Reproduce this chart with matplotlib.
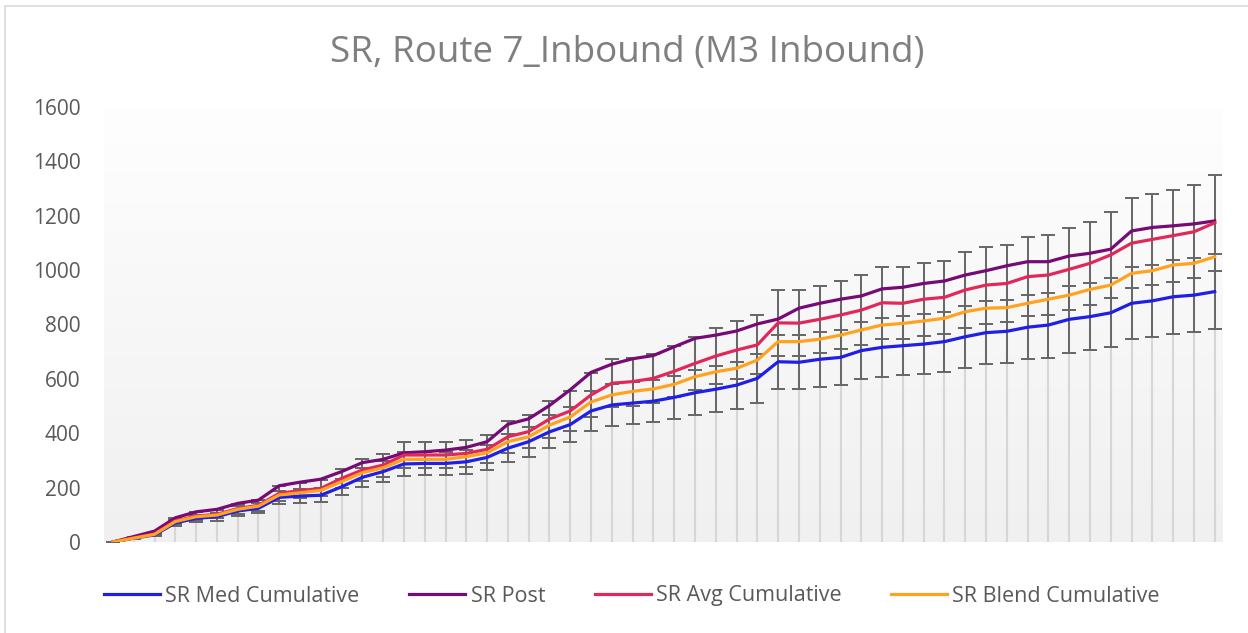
import matplotlib
matplotlib.use("Agg")
import matplotlib.pyplot as plt
import numpy as np
from matplotlib.patches import Rectangle

plt.rcParams['font.family'] = ['Open Sans', 'DejaVu Sans']

title = "SR, Route 7_Inbound (M3 Inbound)"
series_names = ["SR Med Cumulative", "SR Post", "SR Avg Cumulative", "SR Blend Cumulative"]

med = [0, 14, 26, 70, 87, 93, 114, 124, 164, 169, 172, 203, 238, 259, 287, 289, 289, 295,
       311, 345, 369, 405, 432, 482, 504, 511, 518, 532, 549, 562, 577, 602, 663, 661, 672,
       679, 704, 716, 722, 728, 737, 755, 770, 775, 790, 798, 819, 829, 843, 878, 887, 902,
       908, 921]
post = [0, 20, 40, 89, 111, 120, 142, 154, 207, 220, 231, 259, 292, 304, 328, 332, 338, 348,
        369, 433, 453, 502, 560, 624, 654, 674, 686, 718, 749, 761, 776, 802, 820, 860, 878,
        893, 905, 931, 937, 951, 960, 982, 998, 1016, 1031, 1031, 1052, 1062, 1077, 1144, 1157,
        1163, 1170, 1181]
avg = [0, 15, 30, 78, 95, 102, 123, 135, 179, 189, 197, 234, 265, 283, 320, 320, 320, 326,
       341, 387, 406, 452, 482, 541, 584, 590, 602, 628, 657, 684, 706, 725, 806, 805, 819,
       835, 853, 880, 878, 893, 900, 927, 945, 951, 976, 982, 1003, 1025, 1056, 1099, 1113,
       1127, 1141, 1174]
blend = [0, 14, 28, 75, 93, 99, 120, 132, 173, 181, 190, 222, 255, 273, 304, 304, 304, 314,
         328, 369, 387, 430, 460, 515, 541, 554, 563, 580, 608, 626, 639, 669, 737, 737, 746,
         761, 780, 798, 804, 813, 823, 847, 860, 862, 878, 893, 908, 929, 945, 988, 998, 1019,
         1025, 1049]
error_pct = 0.15  # percentage error bars on Med and Avg series
y_ticks = [0, 200, 400, 600, 800, 1000, 1200, 1400, 1600]

colors = ["#1f1fe6", "#760a76", "#e0285a", "#ffa21f"]

W, H = 1248, 633
fig = plt.figure(figsize=(W / 100, H / 100), dpi=100)
fig.patch.set_facecolor("white")

# outer chart border
fig.patches.append(Rectangle((5 / W, -0.01), 1.2, 1 - 6 / H + 0.01, transform=fig.transFigure,
                             fill=False, edgecolor="#d9d9d9", linewidth=1.2))

ax = fig.add_axes([104 / W, 1 - 542 / H, (1223 - 104) / W, (542 - 107) / H])
x = np.arange(len(med))
xmin, xmax = -0.43, len(med) - 1 + 0.4
ax.set_xlim(xmin, xmax)

# gradient background
grad = np.linspace(1, 0, 256).reshape(-1, 1)
ax.imshow(grad, extent=[xmin, xmax, 0, 1700], aspect="auto",
          cmap=matplotlib.colors.LinearSegmentedColormap.from_list("g", ["#f0f0f0", "#ffffff"]),
          zorder=0, origin="upper")
ax.set_ylim(0, 1600)

# drop lines
top = np.maximum.reduce([np.array(med), np.array(post), np.array(avg), np.array(blend)])
ax.vlines(x, 0, top, color="#d6d6d6", linewidth=1.5, zorder=1)

# error bars
for vals in (avg, med):
    v = np.array(vals, dtype=float)
    ax.errorbar(x, v, yerr=error_pct * v, fmt="none", ecolor="#666666", elinewidth=1.4,
                capsize=5, capthick=1.4, zorder=2)

lines = []
for vals, c, n in zip([med, post, avg, blend], colors, series_names):
    ln, = ax.plot(x, vals, color=c, linewidth=2.3, label=n, zorder=3, solid_joinstyle="round")
    lines.append(ln)

for s in ax.spines.values():
    s.set_visible(False)
ax.set_xticks([])
ax.set_yticks(y_ticks)
ax.tick_params(axis="y", length=0, pad=17, labelsize=15, labelcolor="#595959")

fig.text(627 / W, 1 - 53 / H, title, ha="center", va="center", fontsize=26.5, color="#7f7f7f")

fig.legend(handles=lines, labels=series_names, loc="center", bbox_to_anchor=(632 / W, 1 - 596 / H),
           ncol=4, frameon=False, fontsize=15.5, handlelength=2.6, handletextpad=0.25,
           columnspacing=2.3, labelcolor="#595959")

fig.savefig("out.png", dpi=100, facecolor="white")
